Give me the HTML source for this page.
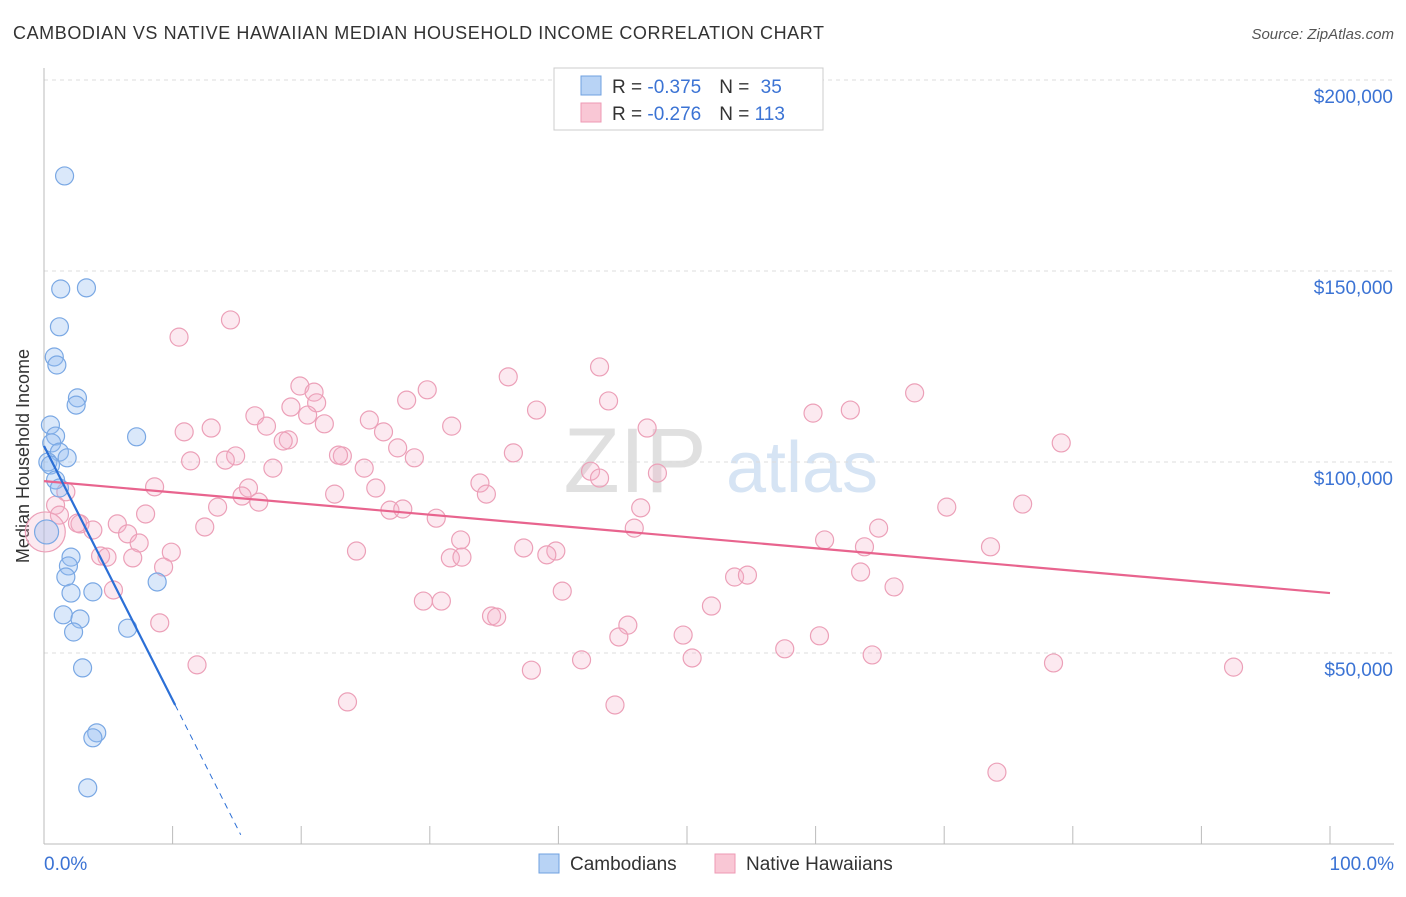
<!DOCTYPE html>
<html><head><meta charset="utf-8"><style>
body{margin:0;background:#fff;font-family:"Liberation Sans",sans-serif}
svg text{font-family:"Liberation Sans",sans-serif}
</style></head><body>
<svg id="c" width="1406" height="892" xmlns="http://www.w3.org/2000/svg">
<text x="13" y="39" font-size="18" fill="#333" textLength="811">CAMBODIAN VS NATIVE HAWAIIAN MEDIAN HOUSEHOLD INCOME CORRELATION CHART</text>
<text x="1394" y="39" font-size="15" fill="#555" text-anchor="end" font-style="italic">Source: ZipAtlas.com</text>
<text x="29" y="456" font-size="18" fill="#333" text-anchor="middle" transform="rotate(-90 29 456)">Median Household Income</text>
<g><text x="635" y="492" font-size="92" fill="#e0e0e0" text-anchor="middle" font-family="Liberation Serif">ZIP</text><text x="802" y="492" font-size="72" fill="#d6e4f4" text-anchor="middle">atlas</text></g>
<g id="grid"></g><g id="pts"></g><g id="lines"></g>
<g>
<rect x="554" y="68" width="269" height="62" fill="#fff" stroke="#ccc"/>
<rect x="581" y="76" width="20" height="19" fill="#b8d3f5" stroke="#6fa0e0"/>
<rect x="581" y="103" width="20" height="19" fill="#f9c7d5" stroke="#ee9ab4"/>
<text x="612" y="93" font-size="19" fill="#333">R = <tspan fill="#3b73d4">-0.375</tspan><tspan dx="18">N = </tspan><tspan fill="#3b73d4" dx="6">35</tspan></text>
<text x="612" y="120" font-size="19" fill="#333">R = <tspan fill="#3b73d4">-0.276</tspan><tspan dx="18">N = </tspan><tspan fill="#3b73d4">113</tspan></text>
</g>
<g>
<rect x="539" y="854" width="20" height="19" fill="#b8d3f5" stroke="#6fa0e0"/><text x="570" y="870" font-size="19" fill="#333">Cambodians</text>
<rect x="715" y="854" width="20" height="19" fill="#f9c7d5" stroke="#ee9ab4"/><text x="746" y="870" font-size="19" fill="#333">Native Hawaiians</text>
</g>
<text x="44" y="870" font-size="19" fill="#3b73d4">0.0%</text>
<text x="1394" y="870" font-size="19" fill="#3b73d4" text-anchor="end">100.0%</text>
</svg>
<script>
const yTicks=[50000,100000,150000,200000];
const yTickLabels=["$50,000","$100,000","$150,000","$200,000"];
const blueX=[1.6,1.3,3.3,1.2,0.8,1.0,2.6,2.5,7.2,0.5,0.9,0.6,1.2,1.8,0.3,0.5,0.9,1.2,2.1,1.9,1.7,2.1,3.8,8.8,1.5,2.8,2.3,6.5,3.0,4.1,3.8,3.4,0.2];
const blueY=[174.9,145.3,145.6,135.4,127.5,125.4,116.8,114.9,106.6,109.7,106.8,105.0,102.6,101.1,100.0,99.2,95.3,93.2,75.1,72.8,69.9,65.7,66.0,68.6,60.0,58.9,55.5,56.5,46.1,29.1,27.8,14.7,81.7];
const pinkX=[10.5,14.5,43.2,36.1,19.9,29.8,21.0,67.7,21.2,28.2,43.9,19.2,38.3,62.7,59.8,25.3,16.4,20.5,17.3,13.0,10.9,31.7,21.8,26.4,46.9,79.1,19.0,18.6,27.5,14.9,14.1,11.4,23.2,22.9,36.5,28.8,24.9,17.8,42.5,47.7,33.9,43.2,8.6,1.7,15.9,22.6,25.8,34.4,15.4,16.7,13.5,76.1,70.2,46.4,26.9,27.9,7.9,30.5,5.7,2.8,2.6,3.8,12.5,6.5,64.9,45.9,7.4,32.4,60.7,63.8,73.6,37.3,24.3,39.8,39.1,4.4,4.9,9.9,6.9,31.6,32.5,9.3,63.5,53.7,54.7,5.4,40.3,66.1,29.5,30.9,51.9,34.8,35.2,9.0,45.4,44.7,49.7,60.3,57.6,64.4,41.8,50.4,11.9,78.5,92.5,37.9,23.6,44.4,74.1,0.9,1.2,0.1];
const pinkY=[132.7,137.2,124.9,122.3,119.9,118.9,118.3,118.1,115.5,116.2,116.0,114.4,113.6,113.6,112.8,111.0,112.1,112.3,109.4,108.9,107.9,109.4,110.0,107.9,108.9,105.0,105.8,105.5,103.7,101.6,100.5,100.3,101.6,101.8,102.4,101.1,98.4,98.4,97.6,97.1,94.5,95.8,93.5,92.2,93.2,91.6,93.2,91.6,91.1,89.5,88.2,89.0,88.2,88.0,87.4,87.7,86.4,85.3,83.8,83.8,84.0,82.2,83.0,81.2,82.7,82.7,78.8,79.6,79.6,77.8,77.8,77.5,76.7,76.7,75.7,75.4,75.1,76.4,74.9,74.9,75.1,72.5,71.2,69.9,70.4,66.5,66.2,67.3,63.6,63.6,62.3,59.7,59.4,57.9,57.3,54.2,54.7,54.5,51.1,49.5,48.2,48.7,46.9,47.4,46.3,45.5,37.2,36.4,18.8,88.7,86.1,81.7];
const blueTrend=[[0,104.2],[10.2,36.4],[15.3,2.4]];
const pinkTrend=[[0,95.0],[100,65.7]];
const NS="http://www.w3.org/2000/svg";
const sx=p=>44+p*12.86, sy=k=>844-k*1000/261.8;
function mk(t,a,parent){const e=document.createElementNS(NS,t);for(const k in a)e.setAttribute(k,a[k]);parent.appendChild(e);return e;}
const grid=document.getElementById('grid');
yTicks.forEach((v,i)=>{const y=sy(v/1000);
 const l=mk('line',{x1:44,x2:1394,y1:y,y2:y,stroke:'#ddd','stroke-dasharray':'4,4'},grid);
 
 
 const t=mk('text',{x:1393,y:y+23,'font-size':19,fill:'#3b73d4','text-anchor':'end'},grid);t.textContent=yTickLabels[i];
 
 });
const tl=mk('line',{x1:44,x2:1394,y1:80,y2:80,stroke:'#ddd','stroke-dasharray':'4,4'},grid);


const ax=mk('line',{x1:44,x2:1394,y1:844,y2:844,stroke:'#bbb'},grid);


const ay=mk('line',{x1:44,x2:44,y1:68,y2:844,stroke:'#bbb'},grid);


for(let i=0;i<=10;i++){const t=mk('line',{x1:sx(i*10),x2:sx(i*10),y1:826,y2:844,stroke:'#bbb'},grid);
 
 }
const pts=document.getElementById('pts');
pinkX.forEach((x,i)=>{const c=mk('circle',{cx:sx(x),cy:sy(pinkY[i]),r:(i==pinkX.length-1)?20:9,fill:'rgba(245,175,200,0.28)',stroke:'#eca0b8','stroke-width':1.2},pts);
 
 });
blueX.forEach((x,i)=>{const c=mk('circle',{cx:sx(x),cy:sy(blueY[i]),r:(i==blueX.length-1)?12:9,fill:'rgba(150,190,240,0.35)',stroke:'#7aa8e4','stroke-width':1.2},pts);
 
 });
const lines=document.getElementById('lines');
const pl=mk('line',{x1:sx(pinkTrend[0][0]),y1:sy(pinkTrend[0][1]),x2:sx(pinkTrend[1][0]),y2:sy(pinkTrend[1][1]),stroke:'#e8648e','stroke-width':2.2},lines);


const bl=mk('line',{x1:sx(blueTrend[0][0]),y1:sy(blueTrend[0][1]),x2:sx(blueTrend[1][0]),y2:sy(blueTrend[1][1]),stroke:'#2b6fd6','stroke-width':2.2},lines);


const bd=mk('line',{x1:sx(blueTrend[1][0]),y1:sy(blueTrend[1][1]),x2:sx(blueTrend[2][0]),y2:sy(blueTrend[2][1]),stroke:'#2b6fd6','stroke-width':1,'stroke-dasharray':'6,5'},lines);


</script>
</body></html>
